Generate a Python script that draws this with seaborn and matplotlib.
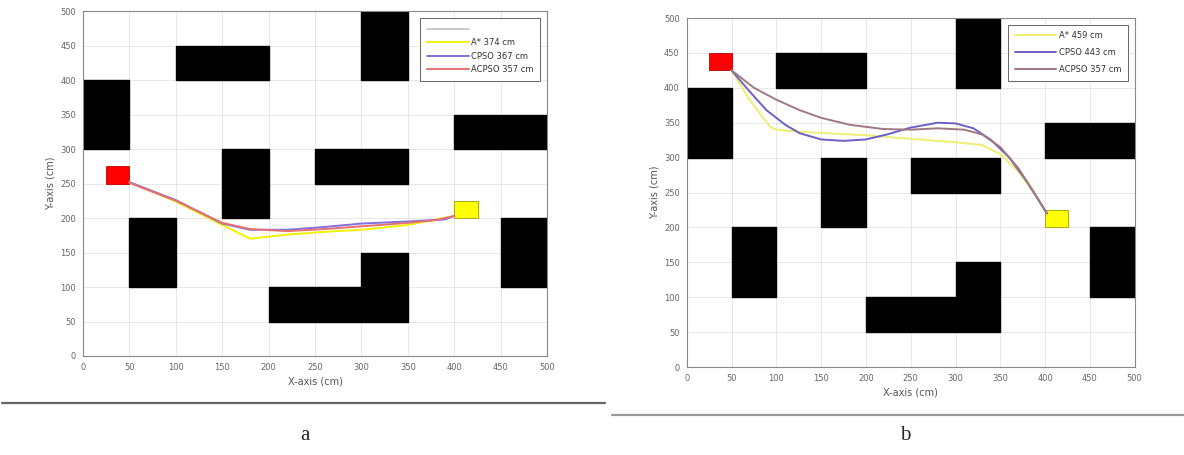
import matplotlib
matplotlib.use("Agg")
import matplotlib.pyplot as plt
from matplotlib.patches import Rectangle
from matplotlib.lines import Line2D
import seaborn as sns
import pandas as pd

# ---------------- data ----------------
# obstacles: (x0, y0, width, height) in cm
obstacles = [
    (0, 300, 50, 100), (100, 400, 100, 50), (300, 400, 50, 100),
    (400, 300, 100, 50), (150, 200, 50, 100), (250, 250, 100, 50),
    (50, 100, 50, 100), (450, 100, 50, 100), (200, 50, 150, 50),
    (300, 100, 50, 50),
]
start_a = (25, 250, 25, 25)
goal_a = (400, 200, 25, 25)
start_b = (25, 425, 25, 25)
goal_b = (400, 200, 25, 25)

# panel a paths
a_astar_x = [50, 100, 150, 180, 220, 260, 300, 350, 400]
a_astar_y = [252, 224, 190, 170, 176, 180, 183, 190, 203]
a_cpso_x = [50, 100, 150, 180, 220, 260, 300, 350, 390, 400]
a_cpso_y = [252, 226, 192, 183, 183, 187, 192, 195, 198, 203]
a_acpso_x = [50, 100, 150, 180, 220, 260, 300, 350, 380, 400]
a_acpso_y = [251, 225, 193, 184, 181, 184, 188, 193, 197, 203]

# panel b paths
b_astar_x = [50, 70, 93, 100, 126, 200, 250, 300, 330, 350, 370, 390, 402]
b_astar_y = [425, 383, 344, 340, 337, 332, 327, 322, 318, 305, 280, 245, 220]
b_cpso_x = [50, 70, 89, 110, 126, 150, 175, 200, 223, 250, 280, 300, 320, 340, 360, 380, 402]
b_cpso_y = [425, 395, 368, 347, 335, 326, 324, 326, 333, 343, 350, 349, 342, 325, 300, 265, 220]
b_acpso_x = [50, 75, 100, 126, 150, 182, 219, 250, 280, 310, 330, 350, 370, 390, 402]
b_acpso_y = [425, 400, 383, 368, 357, 347, 341, 340, 342, 340, 333, 315, 285, 245, 220]

labels_a = ["A* 374 cm", "CPSO 367 cm", "ACPSO 357 cm"]
labels_b = ["A* 459 cm", "CPSO 443 cm", "ACPSO 357 cm"]
ticks = list(range(0, 501, 50))

# ---------------- style ----------------
sns.set_theme(style="whitegrid")
plt.rcParams['font.family'] = ['DejaVu Sans']

fig = plt.figure(figsize=(11.84, 4.55), dpi=100)
ax_a = fig.add_axes([0.0701, 0.2176, 0.392, 0.758])
ax_b = fig.add_axes([0.580, 0.1934, 0.3784, 0.767])


def draw(ax, paths, colors, labels, start, goal, blank_entry, spacing):
    for (x0, y0, w, h) in obstacles:
        ax.add_patch(Rectangle((x0, y0), w, h, facecolor="black", edgecolor="black", zorder=2))
    ax.add_patch(Rectangle(start[:2], start[2], start[3], facecolor="#ff0000", edgecolor="#c00000", lw=0.6, zorder=3))
    ax.add_patch(Rectangle(goal[:2], goal[2], goal[3], facecolor="#ffff00", edgecolor="#a0a000", lw=0.6, zorder=3))
    for (xs, ys), c, lab in zip(paths, colors, labels):
        df = pd.DataFrame({"x": xs, "y": ys})
        sns.lineplot(data=df, x="x", y="y", sort=False, estimator=None, color=c,
                     lw=1.4, ax=ax, label=lab, zorder=4)
    ax.set_xlim(0, 500)
    ax.set_ylim(0, 500)
    ax.set_xticks(ticks)
    ax.set_yticks(ticks)
    ax.tick_params(labelsize=6, colors="#666666", length=2, pad=3)
    ax.set_xlabel("X-axis (cm)", fontsize=7, color="#555555", labelpad=3)
    ax.set_ylabel("Y-axis (cm)", fontsize=7, color="#555555", labelpad=3)
    ax.grid(True, color="#e4e4e4", lw=0.6)
    ax.set_axisbelow(True)
    for s in ax.spines.values():
        s.set_color("#888888")
        s.set_linewidth(0.8)
    handles = [Line2D([], [], color=c, lw=1.4) for c in colors]
    labs = list(labels)
    if blank_entry:
        handles = [Line2D([], [], color="#c8c8d0", lw=1.4)] + handles
        labs = [" "] + labs
    leg = ax.legend(handles, labs, loc="upper right", fontsize=6, frameon=True,
                    fancybox=False, edgecolor="#666666", framealpha=1,
                    borderaxespad=0.8, handlelength=5, labelspacing=spacing,
                    handletextpad=0.3, borderpad=0.8)
    leg.get_frame().set_linewidth(0.7)
    for t in leg.get_texts():
        t.set_color("#333333")


draw(ax_a, [(a_astar_x, a_astar_y), (a_cpso_x, a_cpso_y), (a_acpso_x, a_acpso_y)],
     ["#f2f200", "#8070e0", "#e87070"], labels_a, start_a, goal_a, True, 0.55)
draw(ax_b, [(b_astar_x, b_astar_y), (b_cpso_x, b_cpso_y), (b_acpso_x, b_acpso_y)],
     ["#eeee70", "#6a60c8", "#a07884"], labels_b, start_b, goal_b, False, 0.95)

# separator lines and captions
fig.add_artist(Line2D([2 / 1184, 605 / 1184], [1 - 403 / 455] * 2, color="#666666", lw=1.6))
fig.add_artist(Line2D([612 / 1184, 1184 / 1184], [1 - 415 / 455] * 2, color="#999999", lw=1.6))
fig.text(305 / 1184, 1 - 435 / 455, "a", fontsize=15, family="Liberation Serif", ha="center", va="center")
fig.text(905 / 1184, 1 - 435 / 455, "b", fontsize=15, family="Liberation Serif", ha="center", va="center")

fig.savefig("out.png", dpi=100, facecolor="white")
